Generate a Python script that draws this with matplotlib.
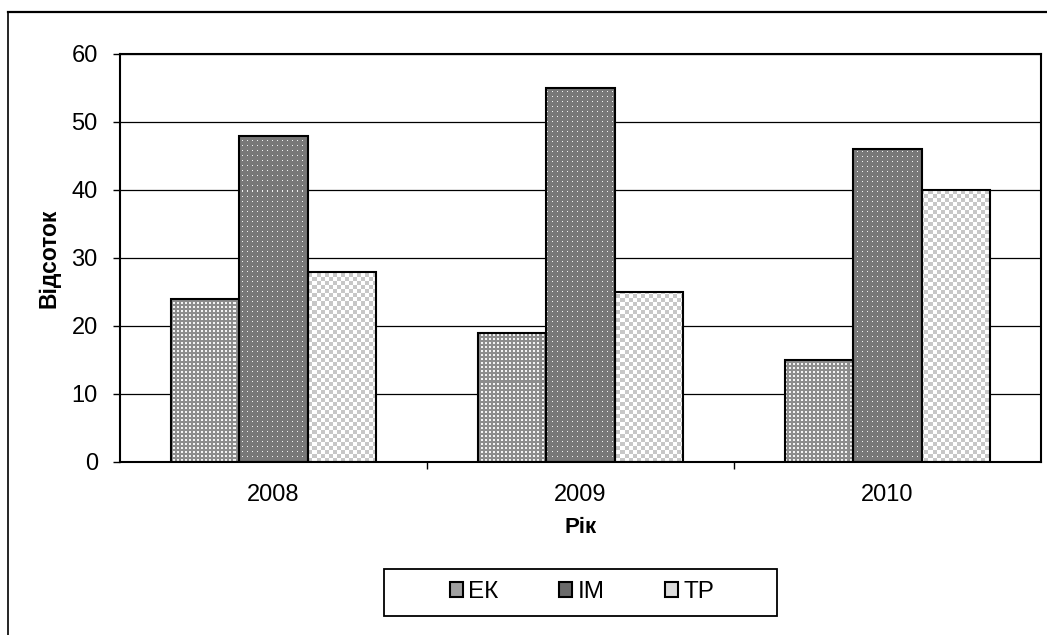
import matplotlib
matplotlib.use("Agg")
import matplotlib.pyplot as plt
import numpy as np
from matplotlib.patches import Rectangle, Patch
from matplotlib.lines import Line2D

# Data
years = ["2008", "2009", "2010"]
series_names = ["ЕК", "ІМ", "ТР"]
ek_values = [24, 19, 15]
im_values = [48, 55, 46]
tp_values = [28, 25, 40]

plt.rcParams["font.family"] = ["Liberation Sans", "DejaVu Sans"]

W, H = 1047, 635
fig = plt.figure(figsize=(W / 100, H / 100), dpi=100)
ax = fig.add_axes([120 / W, (H - 462) / H, 921 / W, 408 / H])

# pixel textures like the old Excel fill patterns
tile_ek = np.array([
    [0.55, 0.55, 0.55, 0.55],
    [0.55, 0.95, 0.95, 0.55],
    [0.55, 0.95, 0.95, 0.55],
    [0.55, 0.55, 0.55, 0.55],
])
tile_im = np.full((5, 5), 0.47)
tile_im[2, 2] = 0.95
tile_tp = np.ones((8, 8))
tile_tp[:4, :4] = 0.78
tile_tp[4:, 4:] = 0.78
tiles = [tile_ek, tile_im, tile_tp]
legend_colors = ["#a0a0a0", "#6a6a6a", "#dcdcdc"]

ax_w, ax_h = 921, 408


def texture(tile):
    ny = ax_h // tile.shape[0] + 1
    nx = ax_w // tile.shape[1] + 1
    return np.tile(tile, (ny, nx))[:ax_h, :ax_w]


x = np.arange(len(years))
width = 0.222
offsets = [-width, 0, width]
all_values = [ek_values, im_values, tp_values]

for vals, off, tile in zip(all_values, offsets, tiles):
    bars = ax.bar(x + off, vals, width, facecolor="none", edgecolor="black",
                  linewidth=1.5, zorder=3)
    img_data = texture(tile)
    for b in bars:
        im = ax.imshow(img_data, cmap="gray", vmin=0, vmax=1,
                       extent=(-0.5, 2.5, 0, 60), aspect="auto",
                       interpolation="nearest", origin="upper", zorder=2)
        im.set_clip_path(b)

ax.set_xlim(-0.5, 2.5)
ax.set_ylim(0, 60)

# grid and axes
ax.set_yticks(np.arange(0, 61, 10))
ax.yaxis.grid(True, color="black", linewidth=0.9)
ax.set_axisbelow(True)
for s in ax.spines.values():
    s.set_linewidth(1.5)
    s.set_color("black")

ax.set_xticks(x)
ax.set_xticklabels(years)
ax.set_xticks([0.5, 1.5], minor=True)
ax.tick_params(axis="x", which="major", length=0, pad=16, labelsize=17)
ax.tick_params(axis="x", which="minor", length=5, width=1.0, direction="out")
ax.tick_params(axis="y", length=5, width=1.0, direction="out", pad=11,
               labelsize=17)

ax.set_xlabel("Рік", fontsize=16, fontweight="bold", labelpad=8)
ax.set_ylabel("Відсоток", fontsize=16.5, fontweight="bold", labelpad=8)

# legend
frame = Rectangle((384 / W, (H - 616) / H), 393 / W, 47 / H,
                  transform=fig.transFigure, facecolor="white",
                  edgecolor="black", linewidth=1.3)
fig.add_artist(frame)
handles = [Patch(facecolor=c, edgecolor="black", linewidth=1.5, label=n)
           for c, n in zip(legend_colors, series_names)]
fig.legend(handles=handles, loc="center", ncol=3, frameon=False,
           bbox_to_anchor=(582 / W, (H - 592) / H), fontsize=17.5,
           handlelength=0.55, handleheight=0.55, handletextpad=0.2,
           columnspacing=2.5)

# outer chart border (top and left visible)
fig.add_artist(Line2D([8 / W, 8 / W], [0, 1 - 12 / H], color="black",
                      linewidth=1.2, transform=fig.transFigure))
fig.add_artist(Line2D([8 / W, 1], [1 - 12 / H, 1 - 12 / H], color="black",
                      linewidth=1.6, transform=fig.transFigure))

fig.savefig("out.png", dpi=100)
